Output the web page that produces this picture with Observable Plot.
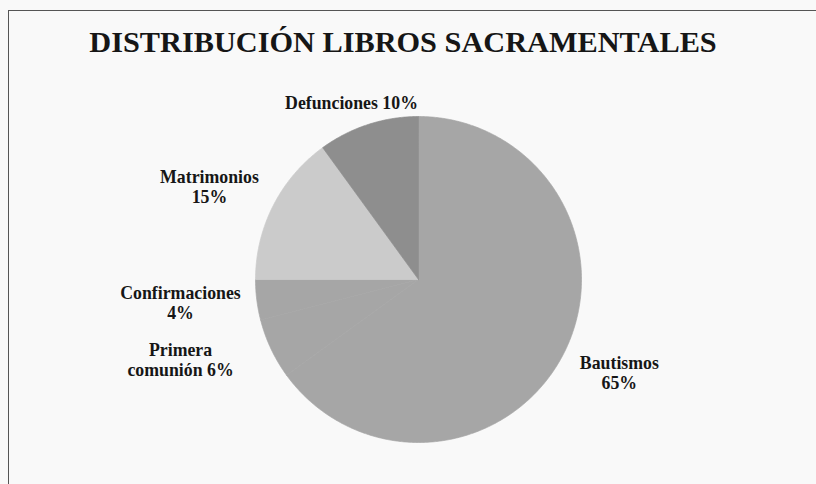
<!DOCTYPE html>
<html>
<head>
<meta charset="utf-8">
<script src="https://cdn.jsdelivr.net/npm/d3@7"></script>
<script src="https://cdn.jsdelivr.net/npm/@observablehq/plot@0.6"></script>
<style>
  html, body { margin: 0; padding: 0; background: #f9f9f9; }
  #wrap { position: relative; width: 816px; height: 484px; overflow: hidden; }
  #frame { position: absolute; left: 8px; top: 10px; width: 900px; height: 600px;
           border-top: 1.5px solid #555; border-left: 1.5px solid #555; }
  #title { position: absolute; left: 0; width: 806px; top: 27px; text-align: center;
           font-family: "Liberation Serif", "Times New Roman", Tinos, "DejaVu Serif", serif;
           font-weight: bold; font-size: 30.3px; color: #161616; line-height: 1; }
  #chart { position: absolute; left: 0; top: 0; }
</style>
</head>
<body>
<div id="wrap">
  <div id="frame"></div>
  <div id="chart"></div>
  <div id="title">DISTRIBUCIÓN LIBROS SACRAMENTALES</div>
</div>
<script>
// Data (clockwise from 12 o'clock)
const categories = ["Bautismos", "Primera comunión", "Confirmaciones", "Matrimonios", "Defunciones"];
const percents = [65, 6, 4, 15, 10];
const labels = [["Bautismos", "65%"], ["Primera", "comunión 6%"], ["Confirmaciones", "4%"], ["Matrimonios", "15%"], ["Defunciones 10%"]];

// Style / layout (kept separate from data)
const colors = ["#a6a6a6", "#a6a6a6", "#a6a6a6", "#cbcbcb", "#8e8e8e"];
const labelRadius = [1.358, 1.540, 1.467, 1.404, 1.164];
const labelAngleShift = [-2.14, 6.62, 1.68, -2.99, -2.68]; // degrees
const W = 816, H = 484, cx = 418, cy = 279, R = 163;

const total = d3.sum(percents);
let acc = 0;
const slices = categories.map((c, i) => {
  const a0 = acc / total * 2 * Math.PI;
  acc += percents[i];
  const a1 = acc / total * 2 * Math.PI;
  return {name: c, a0, a1, mid: (a0 + a1) / 2, i};
});

// polygon outline points for each slice (unit circle)
const poly = [];
for (const s of slices) {
  poly.push({name: s.name, x: 0, y: 0});
  const n = Math.max(2, Math.ceil((s.a1 - s.a0) / (Math.PI / 360)));
  for (let k = 0; k <= n; k++) {
    const a = s.a0 + (s.a1 - s.a0) * k / n;
    poly.push({name: s.name, x: Math.sin(a), y: Math.cos(a)});
  }
  poly.push({name: s.name, x: 0, y: 0});
}

const labelData = slices.map(s => {
  const a = s.mid + labelAngleShift[s.i] * Math.PI / 180;
  return {
    text: labels[s.i].join("\n"),
    x: Math.sin(a) * labelRadius[s.i],
    y: Math.cos(a) * labelRadius[s.i]
  };
});

const plot = Plot.plot({
  width: W, height: H,
  margin: 0,
  style: {background: "transparent", overflow: "visible"},
  x: {domain: [-cx / R, (W - cx) / R], range: [0, W], axis: null},
  y: {domain: [-(H - cy) / R, cy / R], range: [H, 0], axis: null},
  color: {domain: categories, range: colors},
  marks: [
    Plot.line(poly, {x: "x", y: "y", z: "name", fill: "name", stroke: "name", strokeWidth: 0.7, curve: "linear-closed"}),
    Plot.text(labelData, {x: "x", y: "y", text: "text", fill: "#161616",
      fontFamily: "'Liberation Serif', 'Times New Roman', Tinos, 'DejaVu Serif', serif",
      fontWeight: "bold", fontSize: 17.8, lineHeight: 1.16})
  ]
});
document.getElementById("chart").appendChild(plot);
</script>
</body>
</html>
